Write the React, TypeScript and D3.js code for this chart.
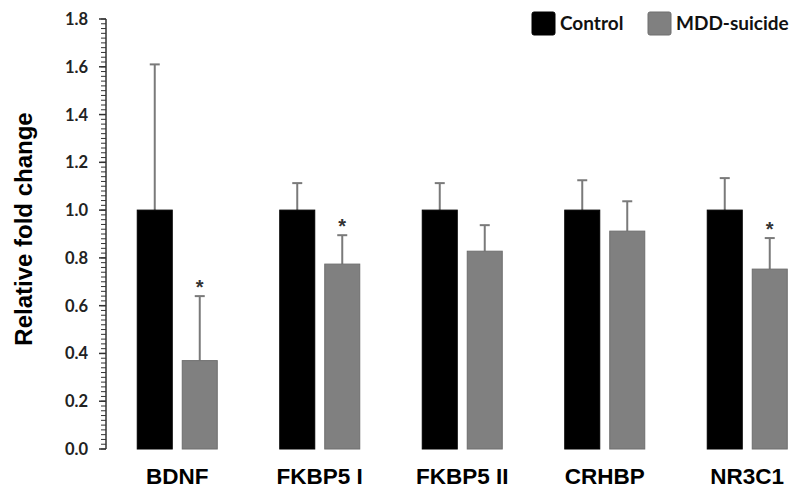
import { useEffect, useRef } from 'react';
import * as d3 from 'd3';

const genes = ['BDNF', 'FKBP5 I', 'FKBP5 II', 'CRHBP', 'NR3C1'];
const groups = ['Control', 'MDD-suicide'];
const controlMean = [1.0, 1.0, 1.0, 1.0, 1.0];
const controlErr = [0.61, 0.113, 0.113, 0.125, 0.134];
const mddMean = [0.37, 0.774, 0.828, 0.912, 0.753];
const mddErr = [0.27, 0.121, 0.109, 0.125, 0.13];
const significant = [true, true, false, false, true];
const yTicks = [0, 0.2, 0.4, 0.6, 0.8, 1.0, 1.2, 1.4, 1.6, 1.8];

const colors: Record<string, string> = { Control: '#000000', 'MDD-suicide': '#808080' };

export default function App() {
  const svgRef = useRef<SVGSVGElement>(null);

  useEffect(() => {
    document.body.style.margin = '0';
    if (!svgRef.current) return;

    const width = 800;
    const height = 496;
    const svg = d3.select(svgRef.current);
    svg.selectAll('*').remove();
    svg.attr('width', width).attr('height', height);

    const axisX = 106;
    const y = d3.scaleLinear().domain([0, 1.8]).range([449, 19]);
    const x0 = d3.scaleBand().domain(genes).range([axisX, axisX + 5 * 142.5]);
    const x1 = d3.scaleBand().domain(groups).range([-40, 40]).paddingInner(10 / 45);

    // minor ticks
    const minor = d3.range(0, 1.8001, 0.02);
    svg.append('g')
      .selectAll('line')
      .data(minor)
      .join('line')
      .attr('x1', axisX - 5)
      .attr('x2', axisX)
      .attr('y1', d => y(d))
      .attr('y2', d => y(d))
      .attr('stroke', '#333')
      .attr('stroke-width', 1);

    // major ticks
    svg.append('g')
      .selectAll('line')
      .data(yTicks)
      .join('line')
      .attr('x1', axisX - 7)
      .attr('x2', axisX)
      .attr('y1', d => y(d))
      .attr('y2', d => y(d))
      .attr('stroke', '#333')
      .attr('stroke-width', 1.5);

    svg.append('line')
      .attr('x1', axisX)
      .attr('x2', axisX)
      .attr('y1', y(1.8))
      .attr('y2', y(0))
      .attr('stroke', '#333')
      .attr('stroke-width', 1.5);

    svg.append('g')
      .selectAll('text')
      .data(yTicks)
      .join('text')
      .attr('x', 88)
      .attr('y', d => y(d) + 6)
      .attr('text-anchor', 'end')
      .attr('font-family', 'Lato, "Open Sans", sans-serif')
      .attr('font-weight', 'bold')
      .attr('font-size', '16.5px')
      .attr('fill', '#222')
      .text(d => d3.format('.1f')(d));

    svg.append('text')
      .attr('transform', `translate(32,${(y(0) + y(1.8)) / 2 - 5}) rotate(-90)`)
      .attr('text-anchor', 'middle')
      .attr('font-family', '"Liberation Sans", Arial, sans-serif')
      .attr('font-weight', 'bold')
      .attr('font-size', '24px')
      .attr('fill', '#000')
      .text('Relative fold change');

    genes.forEach((gene, i) => {
      const cx = (x0(gene) ?? 0) + x0.bandwidth() / 2;
      const rows = [
        { group: 'Control', mean: controlMean[i], err: controlErr[i] },
        { group: 'MDD-suicide', mean: mddMean[i], err: mddErr[i] },
      ];
      rows.forEach(r => {
        const bx = cx + (x1(r.group) ?? 0);
        const bw = x1.bandwidth();
        const mid = bx + bw / 2;
        // error bar
        svg.append('line')
          .attr('x1', mid).attr('x2', mid)
          .attr('y1', y(r.mean)).attr('y2', y(r.mean + r.err))
          .attr('stroke', '#7a7a7a').attr('stroke-width', 2);
        svg.append('line')
          .attr('x1', mid - 5).attr('x2', mid + 5)
          .attr('y1', y(r.mean + r.err)).attr('y2', y(r.mean + r.err))
          .attr('stroke', '#7a7a7a').attr('stroke-width', 2);
        svg.append('rect')
          .attr('x', bx)
          .attr('y', y(r.mean))
          .attr('width', bw)
          .attr('height', y(0) - y(r.mean))
          .attr('fill', colors[r.group])
          .attr('stroke', r.group === 'Control' ? '#000' : '#6e6e6e')
          .attr('stroke-width', 1);
        if (r.group === 'MDD-suicide' && significant[i]) {
          svg.append('text')
            .attr('x', mid)
            .attr('y', y(r.mean + r.err) - 2)
            .attr('text-anchor', 'middle')
            .attr('font-family', '"Liberation Sans", Arial, sans-serif')
            .attr('font-weight', 'bold')
            .attr('font-size', '20px')
            .attr('fill', '#333')
            .text('*');
        }
      });

      svg.append('text')
        .attr('x', cx)
        .attr('y', 484)
        .attr('text-anchor', 'middle')
        .attr('font-family', '"Liberation Sans", Arial, sans-serif')
        .attr('font-weight', 'bold')
        .attr('font-size', '22.5px')
        .attr('fill', '#000')
        .text(gene);
    });

    // legend
    const legendX = [532, 648];
    groups.forEach((g, i) => {
      svg.append('rect')
        .attr('x', legendX[i])
        .attr('y', 12)
        .attr('width', 23)
        .attr('height', 23)
        .attr('rx', 2)
        .attr('fill', colors[g])
        .attr('stroke', g === 'Control' ? '#000' : '#6e6e6e');
      svg.append('text')
        .attr('x', legendX[i] + 28)
        .attr('y', 30)
        .attr('font-family', 'Lato, "Open Sans", sans-serif')
        .attr('font-weight', 'bold')
        .attr('font-size', '19px')
        .attr('fill', '#111')
        .text(g);
    });
  }, []);

  return <svg ref={svgRef} style={{ display: 'block' }} />;
}
